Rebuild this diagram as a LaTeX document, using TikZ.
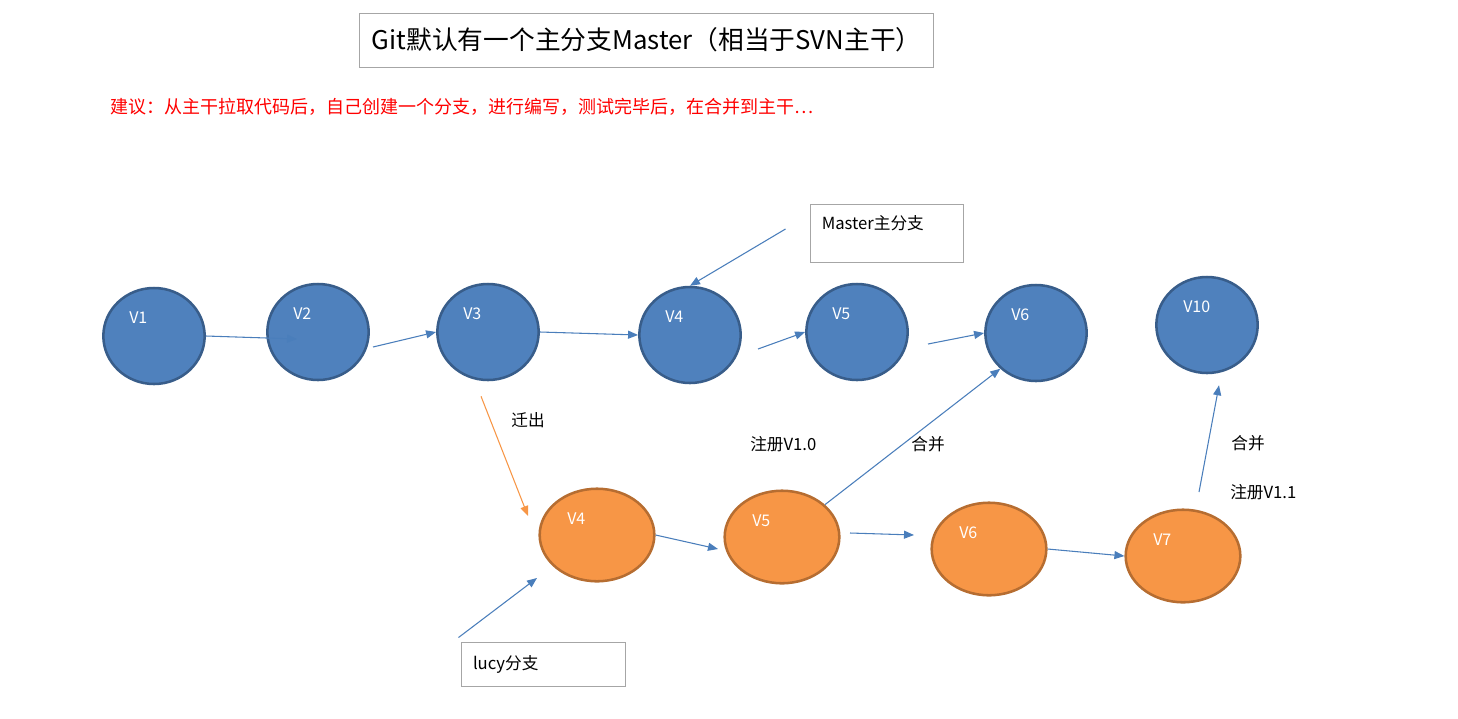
\documentclass[tikz,border=0pt]{standalone}
\usepackage{fontspec}
\usepackage{tikz}
\usetikzlibrary{arrows.meta,calc,shapes.geometric}
\newfontfamily\cjk{Noto Sans CJK SC}

\begin{document}
\begin{tikzpicture}[
            x=0.75pt,y=-0.75pt,
            font=\cjk,
            arr/.style={draw=arx,line width=0.8pt,-{Triangle[length=7.5pt,width=6pt]}},
            box/.style={draw=gyx,line width=0.75pt,inner sep=9pt,align=left},
            lbl/.style={font=\cjk\fontsize{12.5}{15}\selectfont,inner sep=0pt},
            vlab/.style={text=white,anchor=west,inner sep=0pt,font=\cjk\fontsize{12}{14}\selectfont}
        ]
            \definecolor{blx}{HTML}{4F81BD}
            \definecolor{bdx}{HTML}{385D8A}
            \definecolor{orx}{HTML}{F79646}
            \definecolor{odx}{HTML}{B66D31}
            \definecolor{arx}{HTML}{4A7EBB}
            \definecolor{gyx}{HTML}{A6A6A6}

            \useasboundingbox (0,0) rectangle (1458,718);

            \node (title) [box,minimum width=430pt,minimum height=40.5pt,text width=412pt,
                           font=\cjk\fontsize{19.3}{23}\selectfont] at (646.5,40)
                           {Git默认有一个主分支Master（相当于SVN主干）};
            \node (tip) [anchor=west,inner sep=0pt,text=red,font=\cjk\fontsize{13.5}{16}\selectfont] at (110,107)
                        {建议：从主干拉取代码后，自己创建一个分支，进行编写，测试完毕后，在合并到主干…};

            \begin{scope}[
                every node/.style={ellipse,draw=bdx,fill=blx,line width=1.9pt,
                                   minimum width=76pt,minimum height=72pt,inner sep=0pt}
            ]
                \node (b1)  at (154,336)  {};
                \node (b2)  at (318,332)  {};
                \node (b3)  at (488,332)  {};
                \node (b4)  at (690,335)  {};
                \node (b5)  at (857,332)  {};
                \node (b6)  at (1036,333) {};
                \node (b10) at (1207,325) {};
            \end{scope}
            \node [vlab] at ($(b1)+(-25,-18)$)  {V1};
            \node [vlab] at ($(b2)+(-25,-18)$)  {V2};
            \node [vlab] at ($(b3)+(-25,-18)$)  {V3};
            \node [vlab] at ($(b4)+(-25,-18)$)  {V4};
            \node [vlab] at ($(b5)+(-25,-18)$)  {V5};
            \node [vlab] at ($(b6)+(-25,-18)$)  {V6};
            \node [vlab] at ($(b10)+(-24,-18)$) {V10};

            \begin{scope}[
                every node/.style={ellipse,draw=odx,fill=orx,line width=1.9pt,
                                   minimum width=86pt,minimum height=69.4pt,inner sep=0pt}
            ]
                \node (o4) at (597,535)  {};
                \node (o5) at (782,537)  {};
                \node (o6) at (989,549)  {};
                \node (o7) at (1183,556) {};
            \end{scope}
            \node [vlab] at ($(o4)+(-30,-16)$) {V4};
            \node [vlab] at ($(o5)+(-30,-16)$) {V5};
            \node [vlab] at ($(o6)+(-30,-16)$) {V6};
            \node [vlab] at ($(o7)+(-30,-16)$) {V7};

            \node (mbox) [box,minimum width=114.75pt,minimum height=43.5pt] at (886.5,233) {};
            \node (mtxt) [lbl,anchor=west] at ($(mbox.west)+(12,-10)$) {Master主分支};
            \node (lbox) [box,minimum width=123pt,minimum height=33pt,text width=105pt,
                          font=\cjk\fontsize{12.5}{15}\selectfont] at (543,664) {lucy分支};

            \node (out)  [lbl]            at (528,420)  {迁出};
            \node (reg1) [lbl,anchor=west] at (750,444)  {注册V1.0};
            \node (mrg1) [lbl]            at (928,444)  {合并};
            \node (mrg2) [lbl]            at (1248,443) {合并};
            \node (reg2) [lbl,anchor=west] at (1230,492) {注册V1.1};

            \draw [arr]          (b1.east)                   -- ($(b2)+(-21,7)$);
            \draw [arr]          ($(b2)+(55,15)$)            -- (b3.west);
            \draw [arr]          (b3.east)                   -- (b4.west);
            \draw [arr]          ($(b4)+(68,14)$)            -- (b5.west);
            \draw [arr]          ($(b5)+(71,12)$)            -- (b6.west);
            \draw [arr]          ($(mbox.west)+(-24,-4)$)    -- (b4.north);
            \draw [arr,draw=orx] ($(b3.south)+(-7,15)$)      -- ($(o4)+(-69,-19)$);
            \draw [arr]          (o4.east)                   -- ($(o5)+(-64,12)$);
            \draw [arr]          ($(o5)+(68,-4)$)            -- ($(o6)+(-75,-14)$);
            \draw [arr]          (o6.east)                   -- (o7.west);
            \draw [arr]          (o5.37)                     -- (b6.-135);
            \draw [arr]          ($(o7)+(16,-64)$)           -- ($(b10.south)+(12,11)$);
            \draw [arr]          ($(lbox.north west)+(-2,-4)$) -- ($(o4)+(-60,43)$);
        \end{tikzpicture}
\end{document}
